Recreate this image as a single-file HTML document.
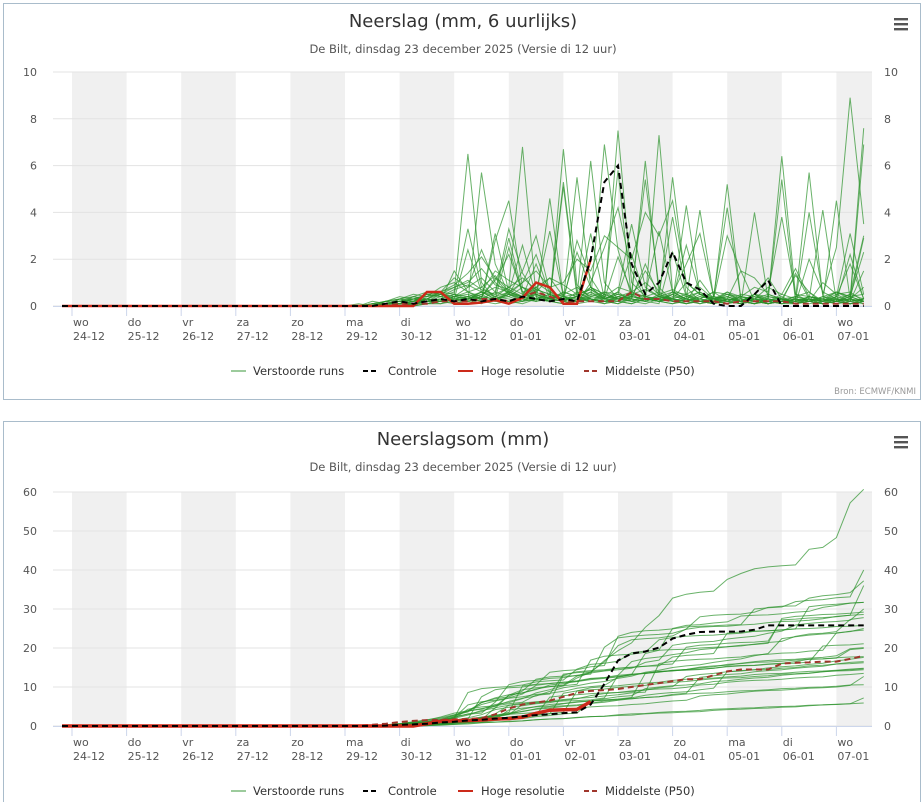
<!DOCTYPE html>
<html><head><meta charset="utf-8">
<style>
body{margin:0;background:#fff;font-family:"DejaVu Sans","Liberation Sans",sans-serif;}
svg{display:block}
</style></head>
<body>
<svg id="root" width="923" height="802" xmlns="http://www.w3.org/2000/svg"></svg>
<script>
// ---- data (6-hourly steps, index i = hours/6 from 24-12 00:00) ----
const dayNames = ["wo","do","vr","za","zo","ma","di","wo","do","vr","za","zo","ma","di","wo"];
const dayDates = ["24-12","25-12","26-12","27-12","28-12","29-12","30-12","31-12","01-01","02-01","03-01","04-01","05-01","06-01","07-01"];
const precipTicks = [0,2,4,6,8,10];
const sumTicks = [0,10,20,30,40,50,60];
const memberStart = 20; // first index stored in member arrays
const m1=[0,0,.1,.2,.3,.5,.4,.8,1,.6,.4,1.2,.5,1,1.5,.8,1,2,1.5,3,2.5,2,4,3,4.5,1,.5,.3,3,1.5,1.2,.5,.3,.2,4,.5,2.5,8.9,3.5];
const m2=[0,0,0,.2,.1,.4,.3,.6,1.2,.8,2.4,1,.5,1.5,3,.6,.2,.1,1,2.5,4.2,1.5,.3,.2,.5,1.8,3.1,.4,.2,.1,.5,1.2,.3,.1,2,.6,.3,.5,3];
const m3=[0,0,.1,0,.3,.2,.5,.4,.6,6.5,1,.3,.2,.4,.8,.3,.2,2.8,1.2,.3,.5,2.2,.4,.3,5.5,.8,.2,.4,.3,1.5,.2,.1,.3,.4,.2,1,.5,.6,.2];
const m4=[0,.1,0,.2,.1,.3,.2,.4,.3,.2,5.7,1.8,.5,.2,.6,3.2,.4,.2,.8,.3,7.5,1,.4,.2,.3,.5,.2,.1,.2,.1,4,.3,.2,1.4,.3,.2,.5,.2,6.9];
const m5=[0,0,0,.1,.2,.1,.3,.2,1.5,.6,.3,2.8,4.5,.8,.3,.5,.2,.6,.3,6.9,2.4,.4,.3,.2,.3,1,.5,.2,.1,.3,.2,.4,.3,.1,.2,.4,.6,.3,7.6];
const m6=[0,0,.1,.1,.2,.3,.4,.5,.4,.8,1.2,.6,3.3,1.4,.5,.3,.2,.4,6.2,1,.3,.2,.5,3.2,.6,.3,.2,.1,.3,.2,.5,.1,.2,.3,5.7,.4,.2,.3,.2];
const m7=[0,0,0,.1,.1,.2,.3,.2,.4,.3,.6,.5,.8,6.8,.4,.2,.3,.2,.5,.3,.4,.6,5.4,.8,.2,.1,.3,.2,.1,.4,.2,.3,6.4,.5,.2,.3,.1,.2,.3];
const m8=[0,0,0,0,.1,.2,.2,.3,.5,.3,.4,1.1,2.2,.6,.3,.2,.4,.3,.2,.4,.3,.5,.2,7.3,.6,.3,.2,.1,.3,.2,.5,.2,.3,.1,.4,.2,4.5,.3,.8];
const m9=[0,0,0,.2,.4,.3,.2,.5,.3,2.4,.6,.3,.5,.4,1.8,.3,5.1,.4,.2,.3,.6,.2,.3,.4,.2,4.3,.5,.2,.3,.2,.1,.3,5.4,.2,.3,.1,.2,.4,.2];
const m10=[0,0,0,0,.1,.1,.2,.2,.3,.4,.3,3.1,.6,.3,.5,.2,6.7,.9,.3,.2,.4,.3,.2,.1,2.3,.4,.2,.3,5.2,.3,.2,.1,.3,.2,.1,.2,.3,.1,.2];
const m11=[0,0,0,.1,.2,.1,.3,.2,.4,.3,.5,.2,.6,2.6,.4,.3,.2,.1,.2,.5,5.8,.3,.2,.4,.3,.1,.2,.3,.5,.2,.1,.3,.2,.4,.6,.1,.2,2.2,.3];
const m12=[0,0,0,0,0,.1,.2,.1,.3,.2,.4,.3,2.5,.5,.3,.2,.6,.4,.3,.2,.3,.4,6.2,.5,.2,.3,.1,.2,.4,.2,.1,.3,.2,.1,.3,4.1,.2,.1,.3];
const m13=[0,0,0,0,.1,.1,.2,.3,.2,.4,.3,.2,.5,.3,.2,4.6,.4,.2,.3,.2,.1,.4,.3,.2,.1,.3,.6,.2,.5,.3,.2,.1,.2,.3,.2,.1,.4,.2,.3];
const m14=[0,0,0,0,0,.1,.1,.2,.3,.2,.1,.4,.3,.2,.5,.3,.4,.2,3.1,.3,.2,.1,.3,.2,.4,.3,.2,.1,.3,.2,.1,.2,.3,.1,.2,.1,.2,.3,.1];
const m15=[0,0,0,0,0,0,.1,.1,.2,.1,.3,.2,.1,.2,.3,.2,.1,.3,.2,.1,.4,.2,.1,.3,.2,.1,.2,.3,.1,.2,.1,.2,.1,.1,.2,.1,.2,.1,.2];
const m16=[0,0,0,0,.1,.1,.2,.2,.4,.3,.6,.4,.8,1.2,.7,.5,.3,.4,.2,.6,.5,.3,1.8,.4,.3,.2,.3,.6,.2,.4,.3,.2,.5,.3,.2,.4,.3,.2,.3];
const m17=[0,0,.1,.2,.3,.4,.6,.5,.8,1,1.6,.9,.7,.4,.6,.3,.5,.8,.4,.3,2.1,.6,.4,.3,.5,.2,.4,.3,.6,.2,.3,.1,.2,.3,.2,.1,.3,.2,.1];
const m18=[0,0,0,.1,.2,.3,.4,.6,.9,1.4,2.1,1.2,.8,.5,1,.6,.4,2.3,.8,.5,.3,.4,1.5,.6,3.8,.5,.3,.2,.6,.4,.3,.8,.5,1.6,.4,.3,.2,.3,2.9];
const m19=[0,0,0,0,.1,.2,.3,.2,.5,.4,.6,.3,.4,.2,.3,.5,.2,.4,.3,.2,.1,.3,.2,.4,.3,.2,1.1,.3,.2,.4,.3,.2,.1,.2,.3,.1,.2,.4,2.3];
const m20=[0,0,0,.1,.1,.2,.2,.3,.2,.3,.5,.8,.6,.4,.7,.5,.3,.2,.4,.6,.3,.5,.7,.4,.3,.2,.5,.4,4.2,.3,.2,.1,.3,.2,.4,.2,.3,.1,.2];
const m21=[0,0,0,0,0,0,.1,.2,.1,.3,.2,.1,.2,.1,.3,.2,.1,.2,.3,.1,.2,.1,.3,.2,.1,.2,.1,.3,.2,.1,.2,.1,.2,.1,.3,.2,.1,.2,1.5];
const m22=[0,0,0,0,.1,.2,.3,.5,.4,.6,.8,1.3,.6,.4,.5,.3,.6,.4,.8,.5,.3,.2,.4,.6,.3,2.6,.5,.3,.4,.2,.3,.5,.3,.2,.4,.3,.6,.4,.5];
const m23=[0,0,.2,.1,.3,.2,.5,.6,.8,1.1,.7,.5,2.9,.6,.8,1.2,.4,.5,.7,.3,.6,3.5,.8,.4,.6,.5,.8,.3,.4,.2,.5,.4,.3,1.3,.6,.2,.4,3.1,.5];
const m24=[0,0,0,0,.1,.1,.2,.2,.3,.2,.4,.3,.5,.3,.2,.4,.3,5.5,.8,.3,.2,.4,.3,.2,.5,.3,.2,.1,.3,.2,.4,.2,.1,.3,.2,.1,.2,.3,.2];
const m25=[0,0,0,.1,.2,.3,.5,.4,.7,.9,.6,1.5,1.1,.8,.6,1.2,.9,.5,.7,.4,.8,.6,1,.5,.7,.4,.3,.6,.5,.4,.8,.6,3.8,.5,.4,.3,.2,.5,.3];
const m26=[0,0,0,0,.1,.2,.3,.2,.4,.5,.3,.6,.4,.8,.5,.3,.4,.2,.6,.3,.5,.4,.3,.2,.6,.3,4.1,.4,.3,.2,.5,.3,.2,.4,.3,.2,.6,.4,.2];
const m27=[0,0,0,.1,.2,.4,.3,.6,.5,3.3,.8,.4,.6,1,2.2,.5,.3,.4,.6,.2,.3,.5,.4,.3,.2,.4,.6,.3,.2,.5,.4,.3,.2,.1,.3,.2,.4,1.8,.3];
const m28=[0,0,0,0,0,.1,.1,.2,.3,.4,.2,.3,.6,.4,.2,.3,5.3,.6,.3,.2,.4,.3,.2,.5,.3,.2,.4,.3,.2,.1,.3,.2,.4,.1,.2,.3,.2,.1,.2];
const members=[m1,m2,m3,m4,m5,m6,m7,m8,m9,m10,m11,m12,m13,m14,m15,m16,m17,m18,m19,m20,m21,m22,m23,m24,m25,m26,m27,m28];
const control=[0,0,0,.1,.2,.1,.2,.3,.2,.3,.2,.3,.2,.4,.3,.2,.3,.2,2,5.3,6,1.8,.5,1,2.3,1,.7,.1,0,0,.5,1.1,0,0,0,0,0,0,0];
const hires=[0,0,0,0,0,0,.6,.6,.1,.1,.15,.25,.1,.35,1,.8,.1,.1,2];
const p50=[0,0,0,0,.1,.1,.1,.2,.2,.2,.3,.3,.2,.4,.6,.4,.2,.2,.2,.2,.2,.6,.3,.3,.2,.2,.2,.2,.1,.2,.2,.2,.2,.1,.1,.1,.1,.1,.1];
const p50Sum=[0,.1,.3,.6,1,1.3,1.5,1.6,1.7,1.8,2,3,4.5,5.5,6,6.5,7.5,8.5,9,9.2,9.5,10,10.5,11,11.5,12,12,13,14,14.5,14.5,14.5,16,16.2,16.3,16.5,16.5,17.2,18];
// ---- layout ----
const NS="http://www.w3.org/2000/svg";
const root=document.getElementById('root');
function el(tag,attrs,parent){const e=document.createElementNS(NS,tag);for(const k in attrs)e.setAttribute(k,attrs[k]);(parent||root).appendChild(e);return e;}
function xOf(i){return 72+13.65*i;}
function cumsum(a){let s=0;return a.map(v=>s+=v);}
function full(arr){const out=[];for(let i=0;i<=58;i++){const j=i-memberStart;out.push(j>=0&&j<arr.length?arr[j]:0);}return out;}
function pathD(vals,yOf){let d='M62,'+yOf(0).toFixed(1);vals.forEach((v,i)=>{d+='L'+xOf(i).toFixed(1)+','+yOf(v).toFixed(1);});return d;}

function panel(cfg){
  const g=el('g',{});
  
  
  const fr=el('rect',{x:3.5,y:cfg.top+.5,width:917,height:cfg.h,fill:'#fff',stroke:'#a9bccb','stroke-width':1},g);
  
  const t=el('text',{x:463,y:cfg.top+24,'text-anchor':'middle','font-size':18,fill:'#333'},g);t.textContent=cfg.title;
  
  const st=el('text',{x:463,y:cfg.top+50,'text-anchor':'middle','font-size':11.5,fill:'#555'},g);st.textContent='De Bilt, dinsdag 23 december 2025 (Versie di 12 uur)';
  
  const mb=el('g',{},g);
  for(let k=0;k<3;k++)el('rect',{x:894,y:cfg.top+15+k*5,width:14,height:2.4,fill:'#555'},mb);
  const y0=cfg.y0,y1=cfg.y1,max=cfg.max;
  const yOf=v=>y0-(v/max)*(y0-y1);
  for(let d=0;d<15;d+=2){const x=xOf(d*4);const b=el('rect',{x:x,y:y1,width:Math.min(54.6,872-x),height:y0-y1,fill:'#f0f0f0'},g);
    }
  cfg.ticks.forEach(v=>{const y=yOf(v);el('line',{x1:53,x2:872,y1:y,y2:y,stroke:'#e3e3e3','stroke-width':1},g);
    const l=el('text',{x:37,y:y+4,'text-anchor':'end','font-size':11,fill:'#555'},g);l.textContent=v;
    
    const r=el('text',{x:884,y:y+4,'font-size':11,fill:'#555'},g);r.textContent=v;
    });
  el('line',{x1:53,x2:872,y1:y0+.5,y2:y0+.5,stroke:'#ccd6eb'},g);
  dayNames.forEach((n,d)=>{const x=xOf(d*4);el('line',{x1:x,x2:x,y1:y0,y2:y0+10,stroke:'#ccd6eb'},g);
    const a=el('text',{x:x+1,y:y0+20,'font-size':11,fill:'#555'},g);a.textContent=n;
    
    const b=el('text',{x:x+1,y:y0+34,'font-size':11,fill:'#555'},g);b.textContent=dayDates[d];
    });
  const sg=el('g',{},g);
  members.forEach(m=>{let v=full(m);if(cfg.cum)v=cumsum(v);
    const p=el('path',{d:pathD(v,yOf),fill:'none',stroke:'#2a922a','stroke-opacity':.7,'stroke-width':1},sg);
    });
  let pv=cfg.cum?full(p50Sum):full(p50);
  const pp=el('path',{d:pathD(pv,yOf),fill:'none',stroke:'#a0362c','stroke-width':2,'stroke-dasharray':'6,4'},g);
  
  let hv=full(hires);hv=hv.slice(0,memberStart+hires.length);if(cfg.cum)hv=cumsum(hv);
  const hp=el('path',{d:pathD(hv,yOf),fill:'none',stroke:'#cc2a1a','stroke-width':cfg.cum?3.5:2.5},g);
  
  let cv=full(control);if(cfg.cum)cv=cumsum(cv);
  const cp=el('path',{d:pathD(cv,yOf),fill:'none',stroke:'#000','stroke-width':2,'stroke-dasharray':'6,4'},g);
  
  const ly=cfg.legendY;
  const items=[[231,253,'Verstoorde runs','#9ccb9c',''],[363,388,'Controle','#000','5,3'],[458,481,'Hoge resolutie','#cc2a1a',''],[584,605,'Middelste (P50)','#a0362c','5,3']];
  items.forEach(it=>{const lg=el('g',{},g);
    el('line',{x1:it[0],x2:it[0]+15,y1:ly,y2:ly,stroke:it[3],'stroke-width':2,'stroke-dasharray':it[4]||'none'},lg);
    const tx=el('text',{x:it[1],y:ly+4,'font-size':11.5,fill:'#333'},lg);tx.textContent=it[2];});
  if(cfg.credit){const c=el('text',{x:916,y:cfg.top+cfg.h-5,'text-anchor':'end','font-size':8.5,fill:'#999'},g);c.textContent='Bron: ECMWF/KNMI';
    }
}
panel({name:'precipitation-chart',top:3,h:396,title:'Neerslag (mm, 6 uurlijks)',y0:306,y1:72,max:10,ticks:precipTicks,cum:false,legendY:371,credit:true});
panel({name:'cumulative-precipitation-chart',top:421,h:400,title:'Neerslagsom (mm)',y0:726,y1:492,max:60,ticks:sumTicks,cum:true,legendY:791,credit:false});
</script>
</body></html>
